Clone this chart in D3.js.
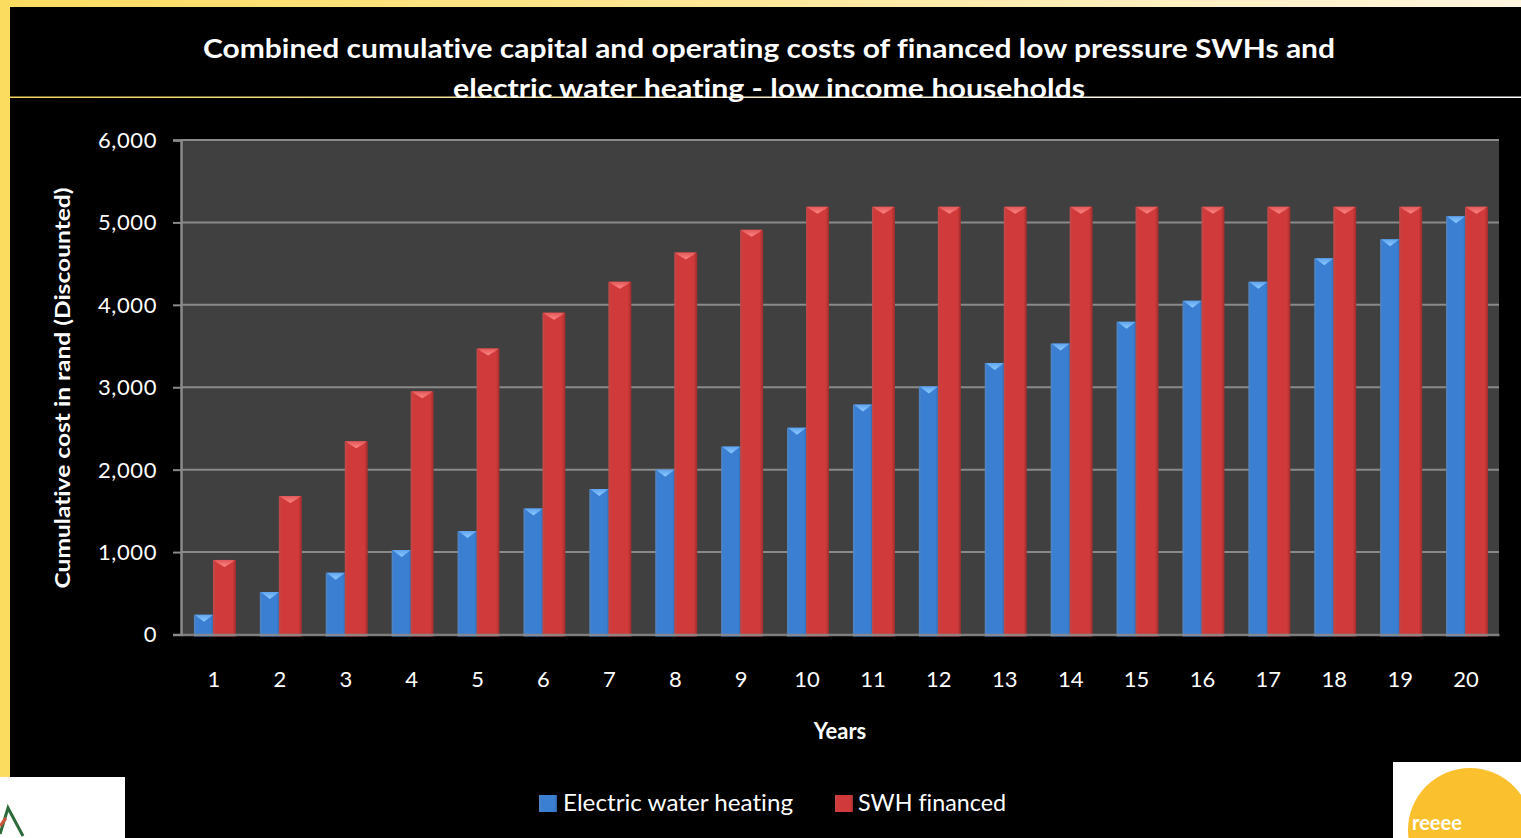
<!DOCTYPE html>
<html>
<head>
<meta charset="utf-8">
<script src="https://cdn.jsdelivr.net/npm/d3@7"></script>
<style>
  html, body { margin: 0; padding: 0; background: #000; }
  svg { display: block; }
  text { font-family: Lato, "Open Sans", sans-serif; fill: #fff; font-variant-ligatures: none; }
</style>
</head>
<body>
<svg id="chart" width="1521" height="838"></svg>
<script>
const years = ["1","2","3","4","5","6","7","8","9","10","11","12","13","14","15","16","17","18","19","20"];
const electric = [240, 515, 750, 1025, 1255, 1530, 1765, 2000, 2280, 2510, 2790, 3010, 3295, 3530, 3795, 4050, 4280, 4565, 4795, 5075];
const swh = [905, 1680, 2345, 2950, 3470, 3905, 4280, 4635, 4910, 5190, 5190, 5190, 5190, 5190, 5190, 5190, 5190, 5190, 5190, 5190];
const seriesNames = ["Electric water heating", "SWH financed"];
const yTicks = [0, 1000, 2000, 3000, 4000, 5000, 6000];
const titleLines = ["Combined cumulative capital and operating costs of financed low pressure SWHs and", "electric water heating - low income households"];
const yTitle = "Cumulative cost in rand (Discounted)";
const xTitle = "Years";

const svg = d3.select("#chart");
const W = 1521, H = 838;
const defs = svg.append("defs");

const topG = defs.append("linearGradient").attr("id","topG").attr("x1","0").attr("x2","1").attr("y1","0").attr("y2","0");
topG.append("stop").attr("offset","0").attr("stop-color","#fcdc5e");
topG.append("stop").attr("offset","0.5").attr("stop-color","#fde89a");
topG.append("stop").attr("offset","1").attr("stop-color","#fff6e0");
const sepG = defs.append("linearGradient").attr("id","sepG").attr("x1","0").attr("x2","1").attr("y1","0").attr("y2","0");
sepG.append("stop").attr("offset","0").attr("stop-color","#f2d35a");
sepG.append("stop").attr("offset","0.6").attr("stop-color","#f6f0d8");
sepG.append("stop").attr("offset","1").attr("stop-color","#ffffff");

function barGrad(id, edge, mid, edge2) {
  const g = defs.append("linearGradient").attr("id", id).attr("x1","0").attr("x2","1").attr("y1","0").attr("y2","0");
  g.append("stop").attr("offset","0").attr("stop-color", edge);
  g.append("stop").attr("offset","0.12").attr("stop-color", mid);
  g.append("stop").attr("offset","0.5").attr("stop-color", mid);
  g.append("stop").attr("offset","0.85").attr("stop-color", mid);
  g.append("stop").attr("offset","1").attr("stop-color", edge2);
}
barGrad("gBlue", "#5585bd", "#3b7fd2", "#2e66aa");
barGrad("gRed", "#bc4c4c", "#d03a3a", "#9e2d2d");
function capGrad(id, c1, c2) {
  const g = defs.append("linearGradient").attr("id", id).attr("x1","0").attr("x2","0").attr("y1","0").attr("y2","1");
  g.append("stop").attr("offset","0").attr("stop-color", c1);
  g.append("stop").attr("offset","1").attr("stop-color", c2);
}
capGrad("cBlue", "#5fa4ee", "#8ccaff");
capGrad("cRed", "#e25858", "#ff8585");

svg.append("rect").attr("width", W).attr("height", H).attr("fill", "#000");
svg.append("rect").attr("x",0).attr("y",0).attr("width",W).attr("height",7).attr("fill","url(#topG)");
svg.append("rect").attr("x",0).attr("y",0).attr("width",10).attr("height",777).attr("fill","#fcdc5e");
svg.append("rect").attr("x",10).attr("y",96.5).attr("width",W-10).attr("height",1.5).attr("fill","url(#sepG)");

const plot = {left: 181, right: 1499, top: 140, bottom: 634.5};
const x = d3.scaleBand().domain(years).range([plot.left, plot.right]).paddingInner(0).paddingOuter(0);
const y = d3.scaleLinear().domain([0, 6000]).range([plot.bottom, plot.top]);
const x1 = d3.scaleBand().domain(seriesNames).range([-20, 20]);

svg.append("rect").attr("x", plot.left).attr("y", plot.top).attr("width", plot.right - plot.left).attr("height", plot.bottom - plot.top).attr("fill", "#404040");

svg.append("g").selectAll("line").data(yTicks.filter(d => d > 0)).join("line")
  .attr("x1", plot.left).attr("x2", plot.right)
  .attr("y1", d => y(d)).attr("y2", d => y(d))
  .attr("stroke", "#8a8a8a").attr("stroke-width", 2);

const groups = svg.append("g").selectAll("g").data(years).join("g")
  .attr("transform", d => `translate(${x(d) + x.bandwidth()/2},0)`);

function drawBar(sel, key, values, grad, cap, extraL, extraR) {
  sel.each(function(d, i) {
    const g = d3.select(this);
    const bx = x1(key) - extraL;
    const bw = x1.bandwidth() + extraL + extraR;
    const top = y(values[i]);
    const bot = y(0) + 2;
    g.append("rect").attr("x", bx).attr("y", top).attr("width", bw).attr("height", bot - top).attr("fill", `url(#${grad})`);
    g.append("path")
      .attr("d", `M${bx+1},${top} L${bx+bw-1},${top} L${bx+bw-4},${top+2.5} L${bx+bw/2},${top+7} L${bx+4},${top+2.5} Z`)
      .attr("fill", `url(#${cap})`);
  });
}
drawBar(groups, seriesNames[0], electric, "gBlue", "cBlue", 0, 0);
drawBar(groups, seriesNames[1], swh, "gRed", "cRed", 1, 2);

const yAxis = svg.append("g").attr("transform", `translate(${plot.left},0)`)
  .call(d3.axisLeft(y).tickValues(yTicks).tickFormat(d3.format(",")).tickSize(8).tickPadding(16));
yAxis.select(".domain").attr("stroke", "#8a8a8a").attr("stroke-width", 2.5);
yAxis.selectAll(".tick line").attr("stroke", "#8a8a8a").attr("stroke-width", 2);
yAxis.selectAll(".tick text").attr("font-size", 22).attr("font-family", "Lato, sans-serif").attr("fill", "#fff").attr("letter-spacing", "0.6px").attr("dy", "0.34em");

const xAxis = svg.append("g").attr("transform", `translate(0,${plot.bottom})`)
  .call(d3.axisBottom(x).tickSize(0).tickPadding(37));
xAxis.select(".domain").attr("stroke", "#8a8a8a").attr("stroke-width", 2.5).attr("opacity", 0.9);
xAxis.selectAll(".tick text").attr("font-size", 22).attr("font-family", "Lato, sans-serif").attr("fill", "#fff");

svg.append("text").attr("x", 769).attr("y", 58).attr("text-anchor", "middle")
  .attr("font-size", 27).attr("font-weight", "bold").attr("textLength", 1132).attr("lengthAdjust", "spacingAndGlyphs").text(titleLines[0]);
svg.append("text").attr("x", 769).attr("y", 98).attr("text-anchor", "middle")
  .attr("font-size", 27).attr("font-weight", "bold").attr("textLength", 632).attr("lengthAdjust", "spacingAndGlyphs").text(titleLines[1]);

svg.append("text").attr("transform", "translate(70,388) rotate(-90)").attr("text-anchor", "middle")
  .attr("font-size", 21).attr("font-weight", "bold").attr("textLength", 401).attr("lengthAdjust", "spacingAndGlyphs").text(yTitle);
svg.append("text").attr("x", 840).attr("y", 739).attr("text-anchor", "middle")
  .attr("font-size", 22).attr("font-weight", "bold").text(xTitle);

const legend = [
  {name: seriesNames[0], grad: "gBlue", sx: 539, tx: 563, tl: 230},
  {name: seriesNames[1], grad: "gRed", sx: 835, tx: 858, tl: 148}
];
const lg = svg.append("g").selectAll("g").data(legend).join("g");
lg.append("rect").attr("x", d => d.sx).attr("y", 795).attr("width", 18).attr("height", 17).attr("fill", d => `url(#${d.grad})`);
lg.append("text").attr("x", d => d.tx).attr("y", 811).attr("font-size", 23)
  .attr("textLength", d => d.tl).attr("lengthAdjust", "spacingAndGlyphs").text(d => d.name);

// logos (decorative)
svg.append("rect").attr("x", 0).attr("y", 777).attr("width", 125).attr("height", 61).attr("fill", "#fff");
svg.append("path").attr("d", "M0,834 L8,808 L23,836").attr("fill", "none").attr("stroke", "#2e6b3a").attr("stroke-width", 3);
svg.append("path").attr("d", "M0,826 L6,818").attr("stroke", "#d0553a").attr("stroke-width", 3);
svg.append("rect").attr("x", 1393).attr("y", 762).attr("width", 128).attr("height", 76).attr("fill", "#fff");
svg.append("circle").attr("cx", 1470).attr("cy", 830).attr("r", 62).attr("fill", "#fbc02d");
svg.append("text").attr("x", 1412).attr("y", 830).attr("font-size", 20).attr("font-weight", "bold").attr("fill", "#fff").text("reeee");
</script>
</body>
</html>
